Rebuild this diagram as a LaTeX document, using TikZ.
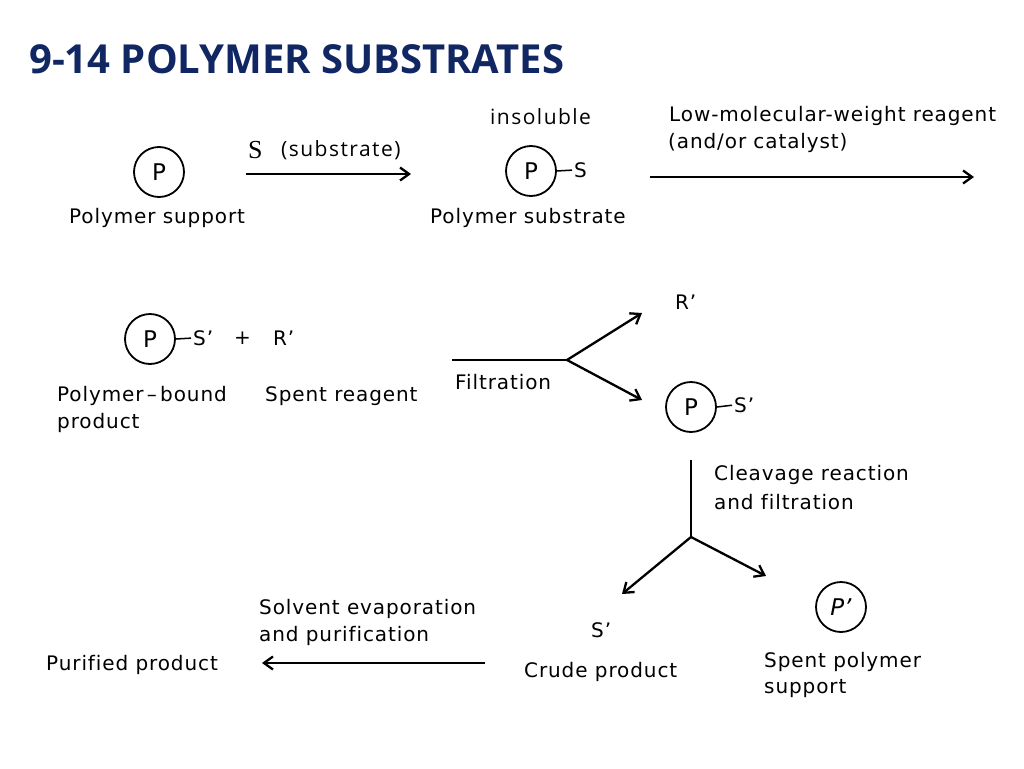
\documentclass[tikz,border=0pt]{standalone}
\usepackage{fontspec}
\setmainfont[LetterSpace=4.5,Ligatures=CommonOff]{DejaVu Sans}
\newfontfamily\pfont{DejaVu Sans}
\newfontfamily\titlefont{Open Sans}
\newfontfamily\olfont[LetterSpace=7]{Open Sans}
\newfontfamily\serfont{Liberation Serif}
\usetikzlibrary{arrows.meta}
\definecolor{titleblue}{RGB}{17,39,99}
\begin{document}
\begin{tikzpicture}[x=1pt,y=-1pt,
  lbl/.style={anchor=west,inner sep=0pt,font=\fontsize{20}{23}\selectfont},
  olbl/.style={anchor=west,inner sep=0pt,font=\olfont\fontsize{21}{24}\selectfont},
  poly/.style={circle,draw,line width=1.8pt,minimum size=50pt,inner sep=0pt,font=\pfont\fontsize{23}{26}\selectfont},
  grp/.style={anchor=west,inner sep=0pt,font=\fontsize{20}{23}\selectfont},
  bond/.style={line width=1.5pt,shorten >=2pt},
  rxn/.style={line width=2.3pt,-{Straight Barb[length=9pt,width=13pt,line width=2.3pt]}},
  plain/.style={line width=2.3pt}]
\useasboundingbox (0,0) rectangle (1024,768);
\node[anchor=west,inner sep=0pt,text=titleblue,font=\titlefont\bfseries\fontsize{40}{46}\selectfont] (title) at (29,59) {9-14 POLYMER SUBSTRATES};
% row 1
\node[poly] (p1) at (159,172) {P};
\node[lbl] (ps) at (69,218) {Polymer support};
\node[anchor=west,inner sep=0pt,font=\serfont\fontsize{26}{28}\selectfont] (sS) at (248,150) {S};
\node[olbl] (subst) at (281,150) {(substrate)};
\coordinate (a1s) at (246,174);
\coordinate (a1e) at (411,174);
\draw[rxn] (a1s) -- (a1e);
\node[olbl] (insol) at (490,117) {insoluble};
\node[poly] (p2) at (531,171) {P};
\node[grp] (s2) at (574,170) {S};
\draw[bond] (p2.east) -- (s2.west);
\node[lbl] (pss) at (430,218) {Polymer substrate};
\node[lbl] (lmw) at (669,116) {Low-molecular-weight reagent};
\node[lbl] (cat) at (668,143) {(and/or catalyst)};
\coordinate (a2s) at (650,177);
\coordinate (a2e) at (974,177);
\draw[rxn] (a2s) -- (a2e);
% row 2
\node[poly] (p3) at (150,339) {P};
\node[grp] (s3) at (193,338) {S’};
\draw[bond] (p3.east) -- (s3.west);
\node[grp] (plus) at (234,338) {+};
\node[grp] (r3) at (273,338) {R’};
\node[lbl] (pb) at (57,396) {Polymer\,–\,bound};
\node[lbl] (prod) at (57,423) {product};
\node[lbl] (sr) at (265,396) {Spent reagent};
\coordinate (f0) at (452,360);
\coordinate (f1) at (567,360);
\coordinate (f2) at (642,313);
\coordinate (f3) at (642,400);
\draw[plain] (f0) -- (f1);
\draw[rxn] (f1) -- (f2);
\draw[rxn] (f1) -- (f3);
\node[lbl] (filt) at (455,382) {Filtration};
\node[grp] (r4) at (675,302) {R’};
\node[poly] (p4) at (691,407) {P};
\node[grp] (s4) at (734,405) {S’};
\draw[bond] (p4.east) -- (s4.west);
% row 3
\coordinate (c0) at (691,460);
\coordinate (c1) at (691,537);
\coordinate (c2) at (622,594);
\coordinate (c3) at (766,576);
\draw[plain] (c0) -- (c1);
\draw[rxn] (c1) -- (c2);
\draw[rxn] (c1) -- (c3);
\node[lbl] (clv) at (714,475) {Cleavage reaction};
\node[lbl] (clf) at (714,502) {and filtration};
\node[grp] (s5) at (591,630) {S’};
\node[lbl] (crude) at (524,672) {Crude product};
\node[poly] (p5) at (841,607) {\textit{P’}};
\node[lbl] (spp) at (764,662) {Spent polymer};
\node[lbl] (spp2) at (764,689) {support};
\node[lbl] (sev) at (259,609) {Solvent evaporation};
\node[lbl] (sev2) at (259,636) {and purification};
\coordinate (b0) at (485,663);
\coordinate (b1) at (262,663);
\draw[rxn] (b0) -- (b1);
\node[lbl] (pur) at (46,665) {Purified product};
\end{tikzpicture}
\end{document}
